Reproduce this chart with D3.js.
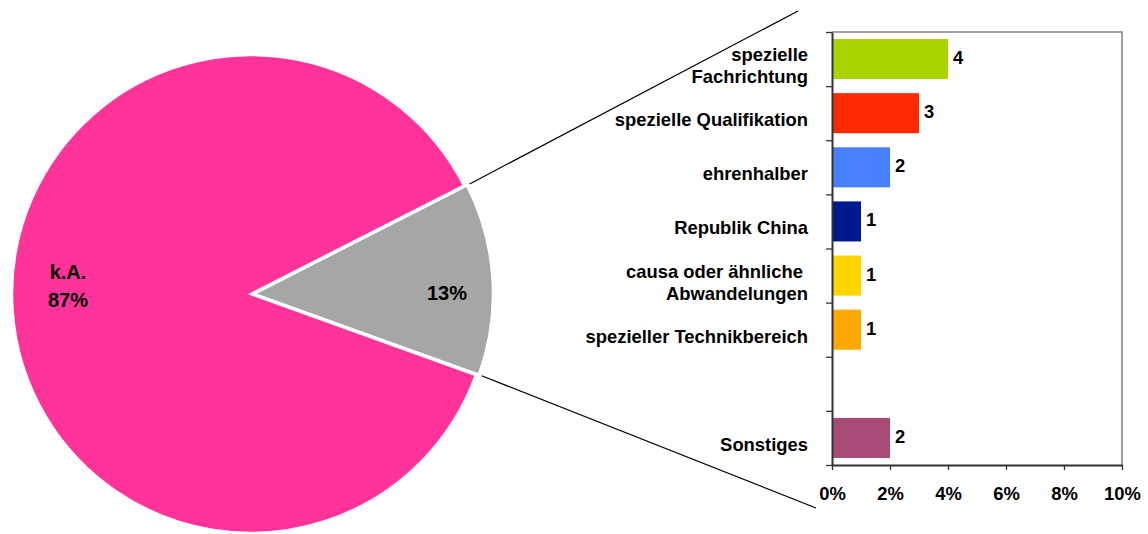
<!DOCTYPE html>
<html>
<head>
<meta charset="utf-8">
<script src="https://cdn.jsdelivr.net/npm/d3@7"></script>
<style>
    body { margin: 0; background: #fff; }
    svg { display: block; font-family: 'Liberation Sans', Arial, sans-serif; }
    text { white-space: pre; }
</style>
</head>
<body>
<div class="Canvas"></div>
<script>
// pie part: share with / without details
const pieNames = ['k.A.', 'Sonstige'];
const pieValues = [87, 13];
const pieLabels = [['k.A.', '87%'], ['13%']];
const pieColors = ['#FF3399', '#A6A6A6'];

// bar part: breakdown of the 13% (counts, shown as % on the axis)
const barCategories = ['Fachrichtung', 'Qualifikation', 'ehrenhalber', 'China', 'causa', 'Technik', 'leer', 'Sonstiges'];
const barLabels = [
    ['spezielle', 'Fachrichtung'],
    ['spezielle Qualifikation'],
    ['ehrenhalber'],
    ['Republik China'],
    ['causa oder ähnliche ', 'Abwandelungen'],
    ['spezieller Technikbereich'],
    [],
    ['Sonstiges'],
];
const barValues = [4, 3, 2, 1, 1, 1, null, 2];
const barColors = ['#AAD400', '#FF2B00', '#4680FF', '#00198F', '#FFD500', '#FFA800', '#fff', '#A84B76'];
const xTicks = [0, 2, 4, 6, 8, 10];

const width = 1148;
const height = 534;
const fontSize = 18.4;
const pieFontSize = 20;

const svg = d3.select('.Canvas').append('svg').attr('width', width).attr('height', height);

// ---------- pie ----------
const cx = 251, cy = 294, radius = 239;
const deg = Math.PI / 180;
const pie = d3.pie().sort(null).startAngle(109.8 * deg).endAngle(469.8 * deg);
const arc = d3.arc().innerRadius(0).outerRadius(radius);
const arcs = pie(pieValues);
const explode = 3;

// offset of the exploded (grey) slice
const grey = arcs[1];
const greyMid = (grey.startAngle + grey.endAngle) / 2;
const off = [explode * Math.sin(greyMid), -explode * Math.cos(greyMid)];

const pieG = svg.append('g').attr('transform', `translate(${cx},${cy})`);
pieG.selectAll('path')
    .data(arcs)
    .enter()
    .append('path')
    .attr('d', arc)
    .attr('fill', (d, i) => pieColors[i])
    .attr('stroke', '#fff')
    .attr('stroke-width', 2.5)
    .attr('transform', (d, i) => (i == 0 ? null : `translate(${off[0]},${off[1]})`));

// pie labels
const labelPos = [[-183, -15], [196, 6]];
arcs.forEach((d, i) => {
    const t = pieG.append('text')
        .attr('text-anchor', 'middle')
        .attr('font-size', pieFontSize + 'px')
        .attr('font-weight', 'bold')
        .attr('y', labelPos[i][1]);
    pieLabels[i].forEach((line, j) => {
        t.append('tspan').attr('x', labelPos[i][0]).attr('dy', j ? 28 : 0).text(line);
    });
});

// ---------- bar chart ----------
const plot = { left: 832, right: 1122, top: 32, bottom: 465 };

const x = d3.scaleLinear().domain([0, 10]).range([plot.left, plot.right]);
const y = d3.scaleBand().domain(barCategories).range([plot.top, plot.bottom]).paddingInner(0.26).paddingOuter(0.13);
const yEdge = d3.scaleLinear().domain([0, barCategories.length]).range([plot.top, plot.bottom]);

// connector lines from the grey slice to the bar area
const corner = (ang, r) => [cx + off[0] + r * Math.sin(ang), cy + off[1] - r * Math.cos(ang)];
const c1 = corner(grey.startAngle, radius + 3);
const c2 = corner(grey.endAngle, radius + 3);
svg.append('line')
    .attr('x1', c1[0]).attr('y1', c1[1])
    .attr('x2', plot.left - 34).attr('y2', plot.top - 21)
    .attr('stroke', '#000').attr('stroke-width', 1.2);
svg.append('line')
    .attr('x1', c2[0]).attr('y1', c2[1])
    .attr('x2', plot.left - 16).attr('y2', plot.bottom + 43)
    .attr('stroke', '#000').attr('stroke-width', 1.2);

// frame (top / right)
svg.append('path')
    .attr('d', `M${plot.left},${plot.top}H${plot.right}V${plot.bottom}`)
    .attr('fill', 'none')
    .attr('stroke', '#808080')
    .attr('stroke-width', 1.5);

const barData = barValues.map((v, i) => ({ cat: barCategories[i], value: v, color: barColors[i], lines: barLabels[i] }));
const shown = barData.filter((d) => d.value != null);

// bars
svg.append('g')
    .selectAll('rect')
    .data(shown)
    .enter()
    .append('rect')
    .attr('x', x(0))
    .attr('y', (d) => y(d.cat))
    .attr('width', (d) => x(d.value) - x(0))
    .attr('height', y.bandwidth())
    .attr('fill', (d) => d.color);

// value labels
svg.append('g')
    .selectAll('text')
    .data(shown)
    .enter()
    .append('text')
    .attr('x', (d) => x(d.value) + 5)
    .attr('y', (d) => y(d.cat) + y.bandwidth() / 2 + 5)
    .attr('font-size', fontSize + 'px')
    .attr('font-weight', 'bold')
    .text((d) => d.value);

// category labels
barData.forEach((d) => {
    if (!d.lines.length) return;
    const mid = y(d.cat) + y.bandwidth() / 2;
    const first = d.lines.length == 1 ? mid + 13 : mid + 2;
    const t = svg.append('text')
        .attr('text-anchor', 'end')
        .attr('font-size', fontSize + 'px')
        .attr('font-weight', 'bold')
        .attr('y', first);
    d.lines.forEach((line, j) => {
        t.append('tspan').attr('x', plot.left - 24).attr('dy', j ? 22 : 0).text(line);
    });
});

// axes
const yAxis = svg.append('g')
    .attr('transform', `translate(${plot.left},0)`)
    .call(d3.axisLeft(yEdge).tickValues(d3.range(barCategories.length + 1)).tickFormat('').tickSize(6).tickSizeOuter(0));
yAxis.select('.domain').attr('stroke', '#333').attr('stroke-width', 2);
yAxis.selectAll('.tick line').attr('stroke', '#333').attr('stroke-width', 1.3);

const xAxis = svg.append('g')
    .attr('transform', `translate(0,${plot.bottom})`)
    .call(d3.axisBottom(x).tickValues(xTicks).tickFormat((d) => d + '%').tickSize(5).tickSizeOuter(0));
xAxis.select('.domain').attr('stroke', '#333').attr('stroke-width', 2);
xAxis.selectAll('.tick line').attr('stroke', '#333').attr('stroke-width', 1.3);
xAxis.selectAll('.tick text')
    .attr('font-size', fontSize + 'px')
    .attr('font-weight', 'bold')
    .attr('font-family', "'Liberation Sans', Arial, sans-serif")
    .attr('fill', '#000')
    .attr('dy', null)
    .attr('y', 35);
</script>
</body>
</html>
